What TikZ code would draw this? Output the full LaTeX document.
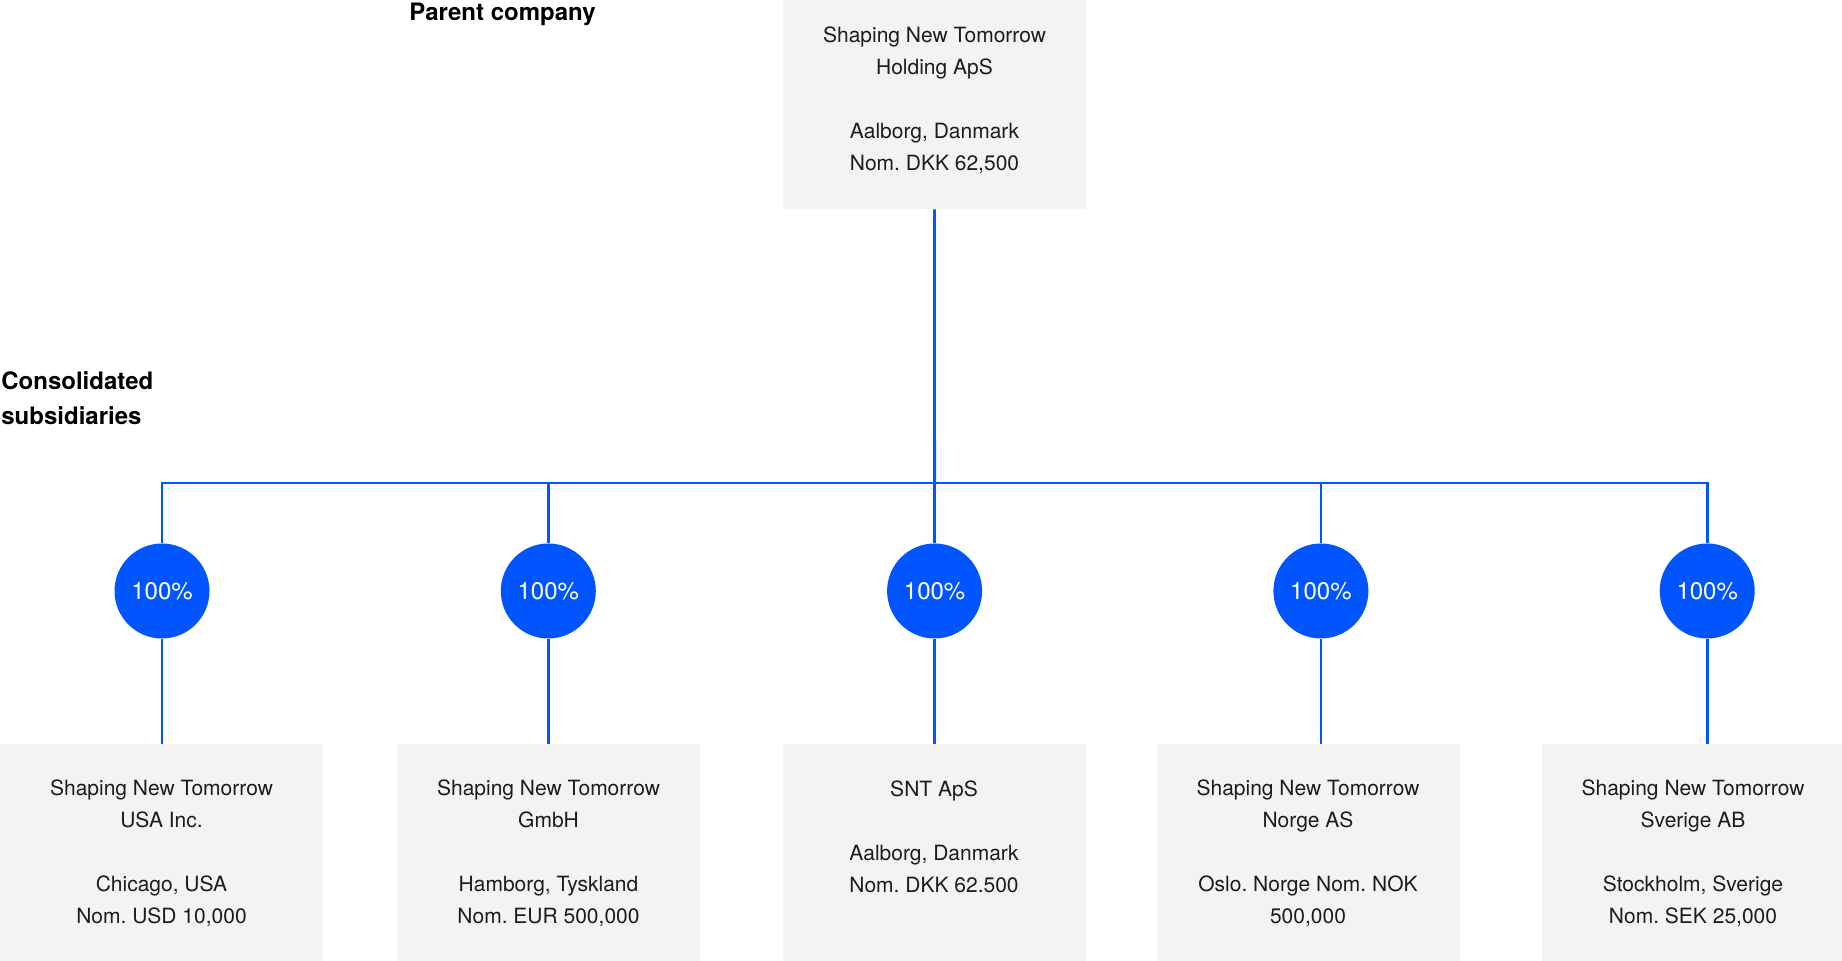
\documentclass[tikz,border=0pt]{standalone}
\usepackage{fontspec}
\setmainfont{TeX Gyre Heros}
\usepackage{xcolor}
\definecolor{sntblue}{RGB}{0,85,255}
\definecolor{boxgray}{RGB}{243,243,243}
\definecolor{inkgray}{RGB}{28,28,28}
\usepackage{tikz}
\frenchspacing
\tikzstyle{company} = [rectangle, fill=boxgray, text=inkgray, align=center,
  minimum width=151.5pt, minimum height=109pt, inner sep=0pt,
  font=\fontsize{10.5}{16}\selectfont]
\tikzstyle{share} = [circle, fill=sntblue, text=white, minimum size=47.5pt,
  inner sep=0pt, font=\fontsize{12}{14}\selectfont]
\tikzstyle{link} = [draw=sntblue, line width=1.4pt]
\tikzstyle{heading} = [inner sep=0pt, text=black, align=left,
  font=\fontsize{12}{17.5}\selectfont\bfseries]

\begin{document}
\begin{tikzpicture}[x=0.5pt, y=-0.5pt]
  \useasboundingbox (0,0) rectangle (1842,961);
  \clip (0,0) rectangle (1842,961);
  % headings
  \node[heading, anchor=base west] (parentlbl) at (409, 21) {Parent company};
  \node[heading, anchor=west] (sublbl) at (1, 398) {Consolidated\\subsidiaries};
  % parent
  \node[company] (parent) at (934.5, 100)
    {Shaping New Tomorrow\\ Holding ApS\\[16pt] Aalborg, Danmark\\ Nom. DKK 62,500};
  % shares
  \foreach \i in {1,...,5} {
    \coordinate (j\i) at ({162+386.3*(\i-1)}, 483);
    \node[share] (pct\i) at ({162+386.3*(\i-1)}, 591) {100\%};
  }
  % subsidiaries
  \node[company, minimum width=161.5pt] (sub1) at (161.5, 853)
    {Shaping New Tomorrow\\ USA Inc.\\[16pt] Chicago, USA\\ Nom. USD 10,000};
  \node[company] (sub2) at (548.5, 853)
    {Shaping New Tomorrow\\ GmbH\\[16pt] Hamborg, Tyskland\\ Nom. EUR 500,000};
  \node[company] (sub3) at (934, 853)
    {SNT ApS\\[16pt] Aalborg, Danmark\\ Nom. DKK 62.500\\ \phantom{X}};
  \node[company] (sub4) at (1308, 853)
    {Shaping New Tomorrow\\ Norge AS\\[16pt] Oslo. Norge Nom. NOK\\ 500,000};
  \node[company] (sub5) at (1693, 853)
    {Shaping New Tomorrow\\ Sverige AB\\[16pt] Stockholm, Sverige\\ Nom. SEK 25,000};
  % links
  \draw[link] (pct1) -- (j1) -- (j5) -- (pct5);
  \draw[link] (parent) -- (j3);
  \foreach \i in {2,3,4}
    \draw[link] (j\i) -- (pct\i);
  \foreach \i in {1,...,5}
    \draw[link] (pct\i) -- (pct\i |- sub\i.north);
\end{tikzpicture}
\end{document}
